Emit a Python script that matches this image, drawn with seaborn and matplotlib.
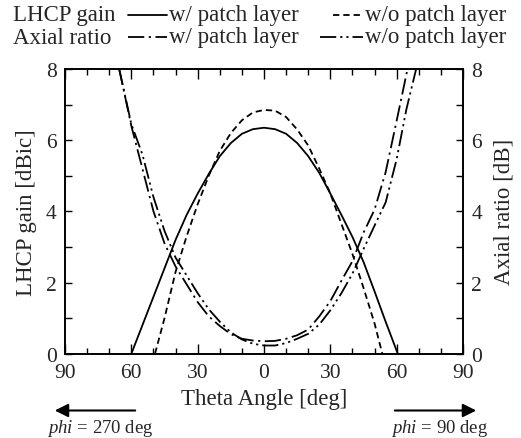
import numpy as np
import pandas as pd
import matplotlib
matplotlib.use("Agg")
import matplotlib.pyplot as plt
from matplotlib.lines import Line2D
import seaborn as sns

# ---- data (theta: negative = phi 270 side, positive = phi 90 side) ----
gain_w_theta = [-60, -55, -50, -45, -40, -35, -30, -25, -20, -15, -10, -5, 0,
                5, 10, 15, 20, 25, 30, 35, 40, 45, 50, 55, 60.5]
gain_w_val = [0.0, 0.8, 1.6, 2.4, 3.2, 3.9, 4.5, 5.05, 5.55, 5.92, 6.18, 6.31, 6.35,
              6.31, 6.18, 5.92, 5.55, 5.08, 4.5, 3.9, 3.28, 2.58, 1.75, 0.9, 0.0]

gain_wo_theta = [-49.3, -45, -40, -35, -30, -25, -20, -15, -10, -5, 0,
                 5, 10, 15, 20, 25, 30, 35, 40, 45, 50, 53.5]
gain_wo_val = [0.0, 1.0, 2.3, 3.3, 4.2, 5.0, 5.7, 6.2, 6.56, 6.78, 6.85,
               6.83, 6.65, 6.3, 5.85, 5.2, 4.5, 3.65, 2.8, 1.85, 0.85, 0.0]

ar_w_theta = [-65.5, -60, -55, -50, -45, -40, -35, -30, -25, -20, -15, -10, -5, 0,
              5, 10, 15, 20, 25, 30, 35, 40, 45, 50, 55, 60, 64.9]
ar_w_val = [8.0, 6.4, 5.2, 4.0, 3.1, 2.45, 1.95, 1.45, 1.05, 0.78, 0.55, 0.42, 0.37, 0.35,
            0.36, 0.42, 0.52, 0.68, 1.05, 1.48, 2.05, 2.6, 3.4, 4.05, 5.1, 6.55, 8.0]

ar_wo_theta = [-65.5, -60, -55, -50, -45, -40, -35, -30, -25, -20, -15, -10, -5, 0,
               5, 10, 15, 20, 25, 30, 35, 40, 45, 50, 55, 60, 64.4, 68.8]
ar_wo_val = [8.0, 6.45, 5.6, 4.4, 3.45, 2.7, 2.2, 1.7, 1.25, 0.9, 0.6, 0.4, 0.28, 0.23,
             0.23, 0.3, 0.42, 0.56, 0.82, 1.22, 1.7, 2.25, 2.94, 3.6, 4.25, 5.47, 6.87, 8.0]

x_ticks = [-90, -60, -30, 0, 30, 60, 90]
x_tick_labels = ["90", "60", "30", "0", "30", "60", "90"]
y_ticks = [0, 2, 4, 6, 8]

# ---- style ----
sns.set_style("ticks")
plt.rcParams["font.family"] = ["Liberation Serif", "DejaVu Serif"]
plt.rcParams["mathtext.fontset"] = "custom"
plt.rcParams["mathtext.rm"] = "Liberation Serif"
plt.rcParams["mathtext.it"] = "Liberation Serif:italic"

fig = plt.figure(figsize=(5.21, 4.39), dpi=100)
ax = fig.add_axes([0.1248, 0.192, 0.8887 - 0.1248, 0.8405 - 0.192])
ax2 = ax.twinx()

LW = 1.3
DASHED = (3.5, 2.2)
DASHDOT = (9, 2.5, 1.2, 2.5)
DASHDOTDOT = (9, 2.2, 1.2, 2.2, 1.2, 2.2)

def draw(axis, th, val, dashes):
    df = pd.DataFrame({"theta": th, "value": val})
    sns.lineplot(data=df, x="theta", y="value", ax=axis, color="black",
                 linewidth=LW, sort=False, estimator=None)
    line = axis.lines[-1]
    if dashes is not None:
        line.set_dashes(dashes)
    return line

draw(ax, gain_w_theta, gain_w_val, None)
draw(ax, gain_wo_theta, gain_wo_val, DASHED)
draw(ax2, ar_w_theta, ar_w_val, DASHDOT)
draw(ax2, ar_wo_theta, ar_wo_val, DASHDOTDOT)

for a in (ax, ax2):
    a.set_xlim(-90, 90)
    a.set_ylim(0, 8)
    a.set_yticks(y_ticks)
    a.set_yticks(np.arange(0, 9, 1), minor=True)
    for s in a.spines.values():
        s.set_linewidth(1.2)
        s.set_color("black")

ax.set_xticks(x_ticks)
ax.set_xticklabels(x_tick_labels)
ax.set_xticks(np.arange(-90, 91, 10), minor=True)

ax.tick_params(axis="both", which="both", direction="in", top=True, right=False,
               labelsize=15.5, color="black", width=1.0)
ax.tick_params(axis="x", which="major", length=7, pad=7)
ax.tick_params(axis="x", which="minor", length=4.5)
ax.tick_params(axis="y", which="both", length=5, pad=6)
ax2.tick_params(axis="y", which="both", direction="in", labelsize=15.5, length=5,
                color="black", width=1.0, pad=6)

ax.set_xlabel("Theta Angle [deg]", fontsize=16.5, labelpad=4)
ax.set_ylabel("LHCP gain [dBic]", fontsize=16.5, labelpad=6)
ax2.set_ylabel("Axial ratio [dB]", fontsize=16.5, labelpad=8)

# ---- legend drawn at the top ----
fs_leg = 16.5
rows = [(1 - 16 / 439, "LHCP gain", None, DASHED, 333),
        (1 - 38 / 439, "Axial ratio", DASHDOT, DASHDOTDOT, 320)]
for y, lab, d1, d2, x2 in rows:
    fig.text(13 / 521, y, lab, fontsize=fs_leg, va="center", ha="left")
    l1 = Line2D([128 / 521, 167 / 521], [y, y], transform=fig.transFigure,
                color="black", linewidth=LW)
    if d1 is not None:
        l1.set_dashes(d1)
    fig.add_artist(l1)
    fig.text(169 / 521, y, "w/ patch layer", fontsize=fs_leg, va="center", ha="left")
    l2 = Line2D([x2 / 521, 363 / 521], [y, y], transform=fig.transFigure,
                color="black", linewidth=LW)
    l2.set_dashes(d2)
    fig.add_artist(l2)
    fig.text(365 / 521, y, "w/o patch layer", fontsize=fs_leg, va="center", ha="left")

# ---- arrows and phi labels ----
ya = 1 - 411.5 / 439
fig.add_artist(matplotlib.patches.FancyArrowPatch(
    (138 / 521, ya), (52 / 521, ya), transform=fig.transFigure,
    arrowstyle="-|>", mutation_scale=20, linewidth=1.5, color="black"))
fig.add_artist(matplotlib.patches.FancyArrowPatch(
    (392 / 521, ya), (479 / 521, ya), transform=fig.transFigure,
    arrowstyle="-|>", mutation_scale=20, linewidth=1.5, color="black"))
yt = 1 - 429 / 439
fig.text(47 / 521, yt, r"$\it{phi}$ = 270 deg", fontsize=13.5, va="center", ha="left")
fig.text(391 / 521, yt, r"$\it{phi}$ = 90 deg", fontsize=13.5, va="center", ha="left")

fig.savefig("out.png", dpi=100)
